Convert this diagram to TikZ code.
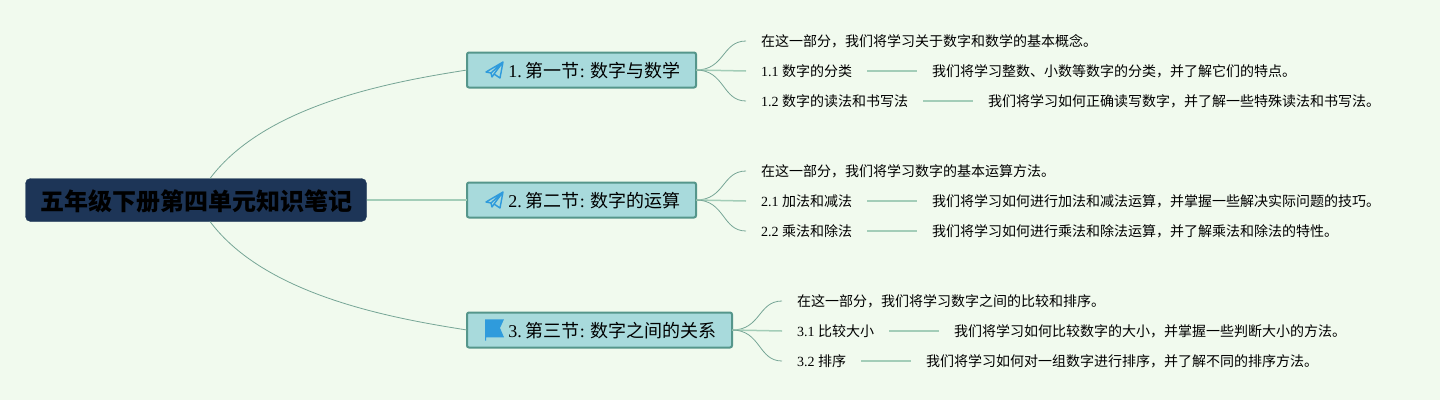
\documentclass[tikz,border=0pt]{standalone}
\usepackage{fontspec}
\setmainfont{Liberation Serif}
\newfontfamily\cjk{Noto Sans CJK SC}
\usetikzlibrary{positioning}
\definecolor{bgc}{HTML}{F1FAEE}
\definecolor{rootc}{HTML}{1D3557}
\definecolor{secc}{HTML}{A8DADC}
\definecolor{secl}{HTML}{55968B}
\definecolor{curvec}{HTML}{76A596}
\definecolor{linkc}{HTML}{A3CDB8}
\definecolor{iconc}{HTML}{2F9BDC}

\begin{document}
\begin{tikzpicture}
[x=1pt,y=-1pt,
 every node/.style={inner sep=0pt,outer sep=0pt},
 rootbox/.style={fill=rootc,draw=rootc,rounded corners=5pt,minimum width=341pt,minimum height=43pt,text height=21pt,text depth=1pt,font=\fontsize{24}{28}\selectfont\bfseries},
 secbox/.style={fill=secc,draw=secl,line width=2pt,rounded corners=2pt,minimum height=35pt,text height=16pt,text depth=0.4pt,font=\fontsize{18}{22}\selectfont},
 leaf/.style={anchor=west,inner xsep=15pt,font=\fontsize{14}{18}\selectfont},
 detail/.style={inner xsep=15pt,font=\fontsize{14}{18}\selectfont},
 curve/.style={draw=curvec,line width=0.8pt},
 link/.style={draw=linkc,line width=1.5pt},
 plane/.pic={\draw[iconc,line width=1.4pt,line join=round] (-8,2) -- (9,-8) -- (6,8) -- (0,4) -- (-2,7) -- (-3,3) -- cycle (-3,3) -- (9,-8) -- (0,4);},
 flagicon/.pic={\fill[iconc] (-9,-10.7) -- (10,-10.7) -- (6,-2) -- (10,7.3) -- (-8,7.3) -- (-8,10.7) -- (-9,10.7) -- cycle;}]
\fill[bgc] (0,0) rectangle (1440,400);

\node[rootbox] (root) at (196,200) {\cjk 五年级下册第四单元知识笔记};

\node[secbox,minimum width=229pt] (s1) at (581.5,70)  {\hspace*{26pt}1.\hspace{4pt}{\cjk 第一节}: {\cjk 数字与数学}};
\node[secbox,minimum width=229pt] (s2) at (581.5,200) {\hspace*{26pt}2.\hspace{4pt}{\cjk 第二节}: {\cjk 数字的运算}};
\node[secbox,minimum width=265pt] (s3) at (599.5,330) {\hspace*{26pt}3.\hspace{4pt}{\cjk 第三节}: {\cjk 数字之间的关系}};

\path (s1.west) ++(27,0) pic {plane};
\path (s2.west) ++(27,0) pic {plane};
\path (s3.west) ++(27,0) pic {flagicon};

\node[leaf] (a0) at (746,41)  {\cjk 在这一部分，我们将学习关于数字和数学的基本概念。};
\node[leaf] (a1) at (746,71)  {1.1 {\cjk 数字的分类}};
\node[leaf] (a2) at (746,101) {1.2 {\cjk 数字的读法和书写法}};
\node[detail] (a1d) [right=50pt of a1] {\cjk 我们将学习整数、小数等数字的分类，并了解它们的特点。};
\node[detail] (a2d) [right=50pt of a2] {\cjk 我们将学习如何正确读写数字，并了解一些特殊读法和书写法。};

\node[leaf] (b0) at (746,171) {\cjk 在这一部分，我们将学习数字的基本运算方法。};
\node[leaf] (b1) at (746,201) {2.1 {\cjk 加法和减法}};
\node[leaf] (b2) at (746,231) {2.2 {\cjk 乘法和除法}};
\node[detail] (b1d) [right=50pt of b1] {\cjk 我们将学习如何进行加法和减法运算，并掌握一些解决实际问题的技巧。};
\node[detail] (b2d) [right=50pt of b2] {\cjk 我们将学习如何进行乘法和除法运算，并了解乘法和除法的特性。};

\node[leaf] (c0) at (782,301) {\cjk 在这一部分，我们将学习数字之间的比较和排序。};
\node[leaf] (c1) at (782,331) {3.1 {\cjk 比较大小}};
\node[leaf] (c2) at (782,361) {3.2 {\cjk 排序}};
\node[detail] (c1d) [right=50pt of c1] {\cjk 我们将学习如何比较数字的大小，并掌握一些判断大小的方法。};
\node[detail] (c2d) [right=50pt of c2] {\cjk 我们将学习如何对一组数字进行排序，并了解不同的排序方法。};

% root to sections
\draw[curve] ([xshift=14pt]root.north) .. controls (265,105) and (390,82) .. (s1.west);
\draw[link]  (root.east) -- (s2.west);
\draw[curve] ([xshift=14pt]root.south) .. controls (265,295) and (390,318) .. (s3.west);

% sections to leaves
\draw[curve] (s1.east) .. controls (725,70) and (722,41) .. (a0.west);
\draw[link]  (s1.east) -- (a1.west);
\draw[curve] (s1.east) .. controls (725,70) and (722,101) .. (a2.west);
\draw[curve] (s2.east) .. controls (725,200) and (722,171) .. (b0.west);
\draw[link]  (s2.east) -- (b1.west);
\draw[curve] (s2.east) .. controls (725,200) and (722,231) .. (b2.west);
\draw[curve] (s3.east) .. controls (761,330) and (758,301) .. (c0.west);
\draw[link]  (s3.east) -- (c1.west);
\draw[curve] (s3.east) .. controls (761,330) and (758,361) .. (c2.west);

% leaves to their details
\draw[link] (a1) -- (a1d);
\draw[link] (a2) -- (a2d);
\draw[link] (b1) -- (b1d);
\draw[link] (b2) -- (b2d);
\draw[link] (c1) -- (c1d);
\draw[link] (c2) -- (c2d);
\end{tikzpicture}
\end{document}
